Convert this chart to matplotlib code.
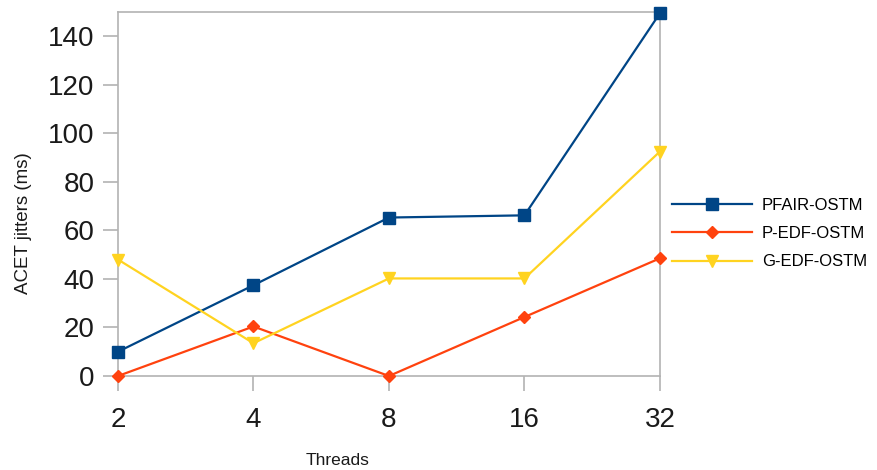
#!/usr/bin/env python3

"""ACET jitters vs threads."""

import matplotlib
matplotlib.use("Agg")
import matplotlib.pyplot as plt

plt.rcParams["font.family"] = ["Liberation Sans", "DejaVu Sans"]

threads = ["2", "4", "8", "16", "32"]
pfair = [10, 37.4, 65.3, 66.2, 149.5]
pedf = [0, 20.4, 0, 24.3, 48.5]
gedf = [48, 13.5, 40.2, 40.2, 92.5]

fig = plt.figure(figsize=(8.77, 4.70), dpi=100)
ax = fig.add_axes([0.1345, 0.2, 0.618, 0.7745])

xs = range(len(threads))
ax.plot(xs, pfair, color="#004586", marker="s", markersize=8, lw=1.6,
        label="PFAIR-OSTM", clip_on=False, zorder=3)
ax.plot(xs, pedf, color="#ff420e", marker="D", markersize=6.5, lw=1.6,
        label="P-EDF-OSTM", clip_on=False, zorder=3)
ax.plot(xs, gedf, color="#ffd320", marker="v", markersize=9, lw=1.6,
        label="G-EDF-OSTM", clip_on=False, zorder=3)

ax.set_xlim(0, len(threads) - 1)
ax.set_ylim(0, 150)
ax.set_xticks(list(xs))
ax.set_xticklabels(threads)
ax.set_yticks(range(0, 141, 20))

for s in ax.spines.values():
    s.set_color("#b3b3b3")
    s.set_linewidth(1.2)
ax.tick_params(axis="both", colors="#b3b3b3", labelcolor="#1a1a1a",
               labelsize=20, length=11, width=1.2)
ax.tick_params(axis="x", pad=11)
ax.tick_params(axis="y", pad=6)

ax.set_xlabel("Threads", fontsize=12.5, color="#1a1a1a")
ax.xaxis.set_label_coords(0.406, -0.212)
ax.set_ylabel("ACET jitters (ms)", fontsize=13.5, color="#1a1a1a")
ax.yaxis.set_label_coords(-0.158, 0.42)

fig.legend(loc="center left", bbox_to_anchor=(0.749, 0.503), frameon=False,
           fontsize=12, handlelength=4.8, handletextpad=0.6,
           labelspacing=0.8)

plt.savefig("out.png", dpi=100)
